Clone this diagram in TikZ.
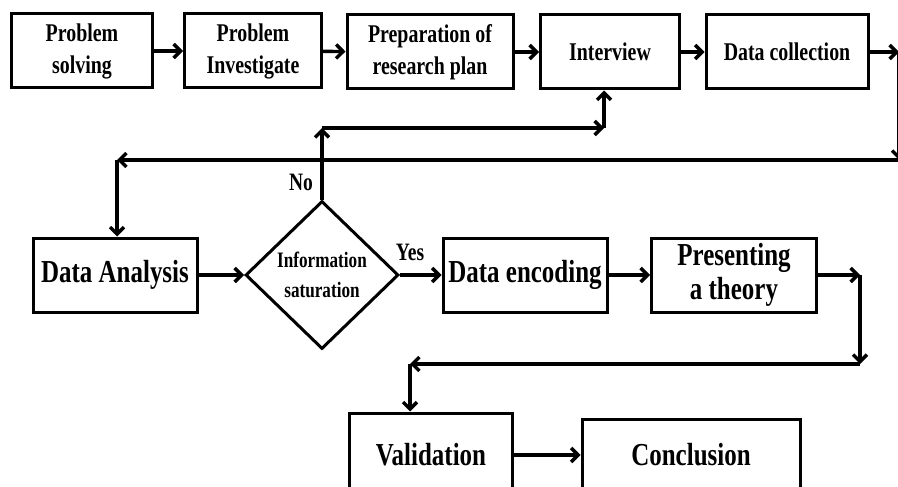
\documentclass[tikz,border=0pt]{standalone}
\usepackage{fontspec}
\setmainfont{Liberation Serif}[FakeStretch=0.78]
\usetikzlibrary{shapes.geometric,arrows.meta}

\begin{document}
\begin{tikzpicture}[x=1pt,y=-1pt,line width=3.4pt,>={Straight Barb[length=7pt,width=14pt]}]
\newcommand{\topfont}{\fontsize{25.5}{32}\selectfont\bfseries}
\newcommand{\bigfont}{\fontsize{32}{34}\selectfont\bfseries}
\useasboundingbox (0,0) rectangle (898,487);
\clip (0,0) rectangle (898,487);
\begin{scope}[shape=rectangle,inner sep=0pt]
\tikzstyle{every node}=[draw,fill=white,align=center,line width=3pt]
\node[minimum width=141pt,minimum height=74pt,font=\topfont] (solving) at (82,51) {Problem\\solving};
\node[minimum width=137pt,minimum height=74pt,font=\topfont] (investigate) at (253,51) {Problem\\Investigate};
\node[minimum width=166pt,minimum height=74pt,font=\topfont] (plan) at (430,52) {Preparation of\\research plan};
\node[minimum width=139pt,minimum height=74pt,font=\topfont] (interview) at (610,52) {Interview};
\node[minimum width=162pt,minimum height=74pt,font=\topfont] (collection) at (787,52) {Data collection};
\node[minimum width=164pt,minimum height=74pt,font=\bigfont] (analysis) at (115,275) {Data Analysis};
\node[shape=diamond,minimum width=153pt,minimum height=148pt,font=\fontsize{22}{30}\selectfont\bfseries] (saturation) at (322,275) {Information\\saturation};
\node[minimum width=164pt,minimum height=74pt,font=\bigfont] (encoding) at (525,275) {Data encoding};
\node[minimum width=165pt,minimum height=74pt,font=\bigfont] (theory) at (734,275) {Presenting\\a theory};
\node[minimum width=163pt,minimum height=84pt,font=\bigfont] (validation) at (431,455) {Validation};
\node[minimum width=218pt,minimum height=72pt,font=\bigfont] (conclusion) at (691,455) {Conclusion};
\end{scope}
\node[font=\fontsize{25}{25}\selectfont\bfseries] (no) at (301,182) {No};
\node[font=\fontsize{25}{25}\selectfont\bfseries] (yes) at (410,252) {Yes};
\coordinate (r1) at (899,52);
\coordinate (r2) at (899,160);
\coordinate (l1) at (117,160);
\coordinate (n1) at (322,128);
\coordinate (n2) at (604,128);
\coordinate (t1) at (860,275);
\coordinate (t2) at (860,364);
\coordinate (t3) at (410,364);
\draw [->] (solving) -- (investigate);
\draw [->] (investigate) -- (plan);
\draw [->] (plan) -- (interview);
\draw [->] (interview) -- (collection);
\draw [->] (collection) -- (r1);
\draw [->] (r1) -- (r2);
\draw [->] (r2) -- (l1);
\draw [->] (l1) -- (l1 |- analysis.north);
\draw [->] (analysis) -- (saturation);
\draw [->] (saturation.north) -- (n1);
\draw [->] (n1) -- (n2);
\draw [->] (n2) -- (n2 |- interview.south);
\draw [->] (saturation) -- (encoding);
\draw [->] (encoding) -- (theory);
\draw [->] (theory) -- (t1);
\draw [->] (t1) -- (t2);
\draw [->] (t2) -- (t3);
\draw [->] (t3) -- (t3 |- validation.north);
\draw [->] (validation) -- (conclusion);
\end{tikzpicture}
\end{document}
